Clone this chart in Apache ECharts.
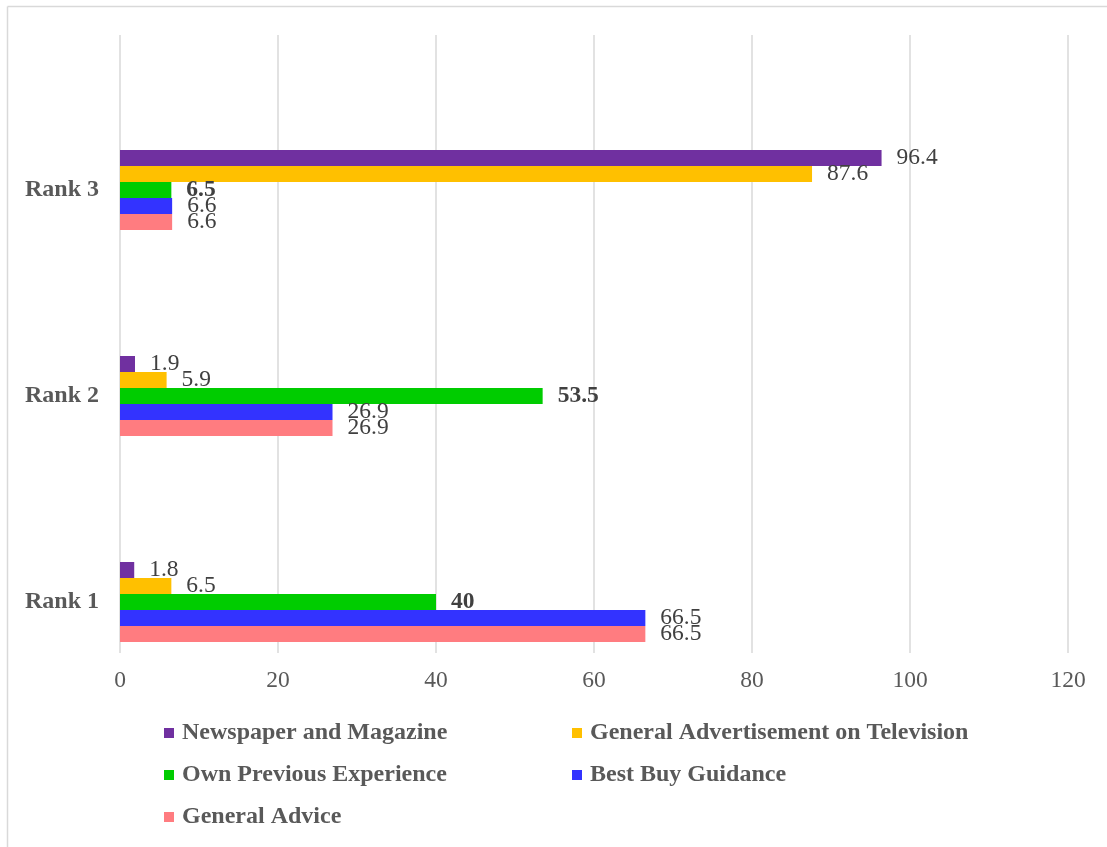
<!DOCTYPE html>
<html>
<head>
<meta charset="utf-8">
<title>Information sources by rank</title>
<script src="https://cdn.jsdelivr.net/npm/echarts@6/dist/echarts.min.js"></script>
<style>
  html, body { margin: 0; padding: 0; background: #ffffff; }
  #chart { width: 1107px; height: 847px; }
</style>
</head>
<body>
<div id="chart"></div>
<script>
// Ranks shown on the category axis (bottom to top)
const ranks = ['Rank 1', 'Rank 2', 'Rank 3'];

// Series names, in legend order
const seriesNames = [
  'Newspaper and Magazine',
  'General Advertisement on Television',
  'Own Previous Experience',
  'Best Buy Guidance',
  'General Advice'
];

// Percentages per rank (Rank 1, Rank 2, Rank 3)
const newspaperMagazine = [1.8, 1.9, 96.4];
const tvAdvertisement   = [6.5, 5.9, 87.6];
const ownExperience     = [40, 53.5, 6.5];
const bestBuyGuidance   = [66.5, 26.9, 6.6];
const generalAdvice     = [66.5, 26.9, 6.6];

// Value axis ticks
const valueTicks = [0, 20, 40, 60, 80, 100, 120];

const seriesValues = [newspaperMagazine, tvAdvertisement, ownExperience, bestBuyGuidance, generalAdvice];
const seriesColors = ['#7030A0', '#FFC000', '#00CC00', '#3333FF', '#FF7C80'];
const boldLabels = [false, false, true, false, false];

const FONT = "'Liberation Serif', 'Times New Roman', serif";

const chart = echarts.init(document.getElementById('chart'), null, { renderer: 'canvas' });

// Legend laid out in two columns
const legendSlots = [
  { left: 164, top: 721 },
  { left: 572, top: 721 },
  { left: 164, top: 763 },
  { left: 572, top: 763 },
  { left: 164, top: 805 }
];

const legends = seriesNames.map((name, i) => ({
  data: [name],
  left: legendSlots[i].left,
  top: legendSlots[i].top,
  padding: 0,
  itemWidth: 10,
  itemHeight: 10,
  icon: 'rect',
  itemGap: 0,
  selectedMode: false,
  textStyle: { fontFamily: FONT, fontSize: 24, fontWeight: 'bold', color: '#595959', padding: [0, 0, 0, 3] }
}));

const series = seriesNames.map((name, i) => ({
  name: name,
  type: 'bar',
  xAxisIndex: 1,
  yAxisIndex: 1,
  data: seriesValues[i],
  barWidth: 16,
  barGap: '0%',
  itemStyle: { color: seriesColors[i] },
  label: {
    show: true,
    position: 'right',
    distance: 15,
    fontFamily: FONT,
    fontSize: 23.5,
    fontWeight: boldLabels[i] ? 'bold' : 'normal',
    color: '#404040'
  }
}));

chart.setOption({
  backgroundColor: '#ffffff',
  animation: false,
  graphic: [
    { type: 'line', shape: { x1: 7.5, y1: 6.5, x2: 1107, y2: 6.5 }, style: { stroke: '#d9d9d9', lineWidth: 1.5 } },
    { type: 'line', shape: { x1: 7.5, y1: 6.5, x2: 7.5, y2: 847 }, style: { stroke: '#d9d9d9', lineWidth: 1.5 } }
  ],
  legend: legends,
  grid: [
    // gridlines and value axis labels
    { left: 120, right: 39, top: 35, height: 618, containLabel: false },
    // bars and rank labels
    { left: 120, right: 39, top: 87, height: 618, containLabel: false }
  ],
  xAxis: [
    {
      type: 'value',
      gridIndex: 0,
      min: valueTicks[0],
      max: valueTicks[valueTicks.length - 1],
      interval: valueTicks[1] - valueTicks[0],
      axisLine: { show: false },
      axisTick: { show: false },
      splitLine: { show: true, lineStyle: { color: '#d9d9d9', width: 1.5 } },
      axisLabel: { margin: 16, fontFamily: FONT, fontSize: 23.5, color: '#595959' }
    },
    {
      type: 'value',
      gridIndex: 1,
      min: valueTicks[0],
      max: valueTicks[valueTicks.length - 1],
      show: false
    }
  ],
  yAxis: [
    {
      type: 'category',
      gridIndex: 0,
      data: ranks,
      show: false
    },
    {
      type: 'category',
      gridIndex: 1,
      data: ranks,
      axisLine: { show: false },
      axisTick: { show: false },
      splitLine: { show: false },
      axisLabel: { margin: 21, fontFamily: FONT, fontSize: 24, fontWeight: 'bold', color: '#595959' }
    }
  ],
  series: series
});
</script>
</body>
</html>
